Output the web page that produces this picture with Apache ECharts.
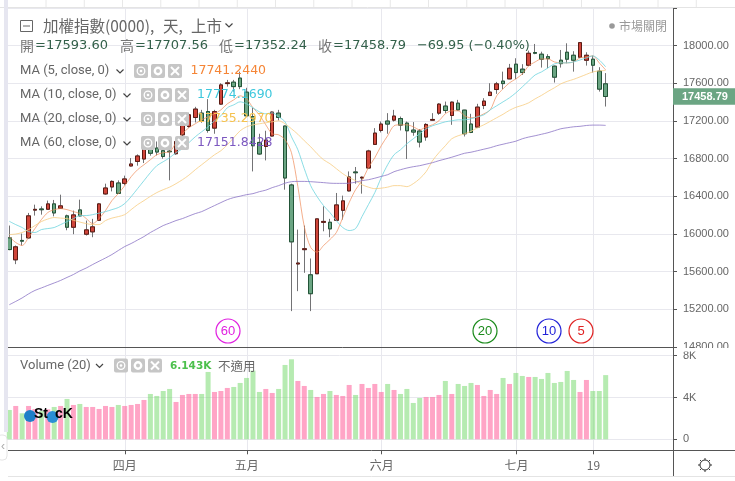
<!DOCTYPE html>
<html>
<head>
<meta charset="utf-8">
<style>
html, body { margin: 0; padding: 0; background: #fff; }
#main { width: 735px; height: 481px; }
</style>
<script src="https://cdn.jsdelivr.net/npm/echarts@6/dist/echarts.min.js"></script>
</head>
<body>
<div id="main"></div>
<script>
const openValues = [
  15957, 15724, 15930, 15957, 16252, 16264, 16261, 16318, 16271, 16191,
  16070, 16254, 15996, 16021, 16144, 16424, 16498, 16540, 16536, 16721,
  16769, 16795, 16909, 16911, 16883, 16878, 16851, 17052, 17140, 17236,
  17282, 17299, 17123, 17378, 17596, 17611, 17654, 17505, 17246, 16971,
  16928, 17039, 17282, 17145, 16519, 15680, 15832, 15565, 15576, 16122,
  16123, 16144, 16250, 16456, 16657, 16593, 16699, 16950, 17098, 17198,
  17208, 17225, 17176, 17102, 17092, 17028, 17207, 17282, 17357, 17257,
  17388, 17314, 17166, 17134, 17363, 17469, 17533, 17622, 17646, 17802,
  17749, 17791, 17926, 17908, 17882, 17781, 17844, 17929, 17897, 17876,
  17844, 17855, 17728, 17593.60
]
const closeValues = [
  15833, 15862, 15922, 16191, 16260, 16256, 16318, 16222, 16297, 16070,
  16201, 16191, 16042, 16074, 16318, 16487, 16557, 16430, 16583, 16742,
  16827, 16911, 16856, 16869, 16822, 16872, 16981, 17158, 17264, 17325,
  17201, 17098, 17299, 17582, 17604, 17564, 17564, 17254, 16936, 16848,
  16996, 17293, 17236, 16593, 15915, 15690, 15842, 15364, 16159, 16132,
  16053, 16307, 16350, 16604, 16649, 16601, 16880, 17070, 17166, 17166,
  17251, 17155, 17095, 17081, 16975, 17162, 17215, 17378, 17310, 17399,
  17317, 17063, 17077, 17346, 17410, 17505, 17593, 17596, 17759, 17713,
  17713, 17918, 17918, 17855, 17861, 17664, 17808, 17855, 17844, 18031,
  17897, 17791, 17537, 17458.79
]
const lowValues = [
  15826, 15678, 15876, 15947, 16194, 16204, 16257, 16186, 16265, 16038,
  15996, 16186, 15982, 15964, 16144, 16416, 16451, 16427, 16515, 16716,
  16724, 16752, 16830, 16833, 16798, 16568, 16840, 17031, 17127, 17183,
  17180, 17074, 17063, 17370, 17564, 17511, 17537, 17251, 16663, 16840,
  16780, 17034, 17204, 16469, 15179, 15391, 15586, 15179, 15576, 16027,
  15964, 16144, 16151, 16451, 16533, 16427, 16695, 16946, 17077, 17063,
  17193, 17098, 16795, 17042, 16918, 16989, 17204, 17264, 17282, 17158,
  17310, 17034, 17070, 17123, 17325, 17466, 17487, 17537, 17643, 17643,
  17688, 17787, 17908, 17766, 17759, 17607, 17766, 17812, 17723, 17876,
  17787, 17713, 17511, 17352.24
]
const highValues = [
  16088, 15876, 16003, 16222, 16310, 16292, 16353, 16360, 16416, 16204,
  16247, 16363, 16141, 16159, 16328, 16533, 16568, 16568, 16618, 16805,
  16844, 16928, 16964, 16981, 16922, 16893, 16999, 17190, 17286, 17349,
  17317, 17431, 17317, 17600, 17635, 17635, 17723, 17551, 17339, 17063,
  17095, 17299, 17317, 17148, 16533, 16045, 16088, 15738, 16159, 16292,
  16159, 16434, 16406, 16663, 16710, 16610, 16893, 17123, 17193, 17282,
  17317, 17246, 17193, 17187, 17113, 17176, 17282, 17388, 17405, 17405,
  17423, 17317, 17275, 17381, 17441, 17600, 17614, 17723, 17805, 17865,
  17802, 17946, 18017, 17935, 17908, 17787, 17953, 18024, 17940, 18031,
  17929, 17893, 17770, 17707.56
]
const ma5 = [
  15971, 15908, 15876, 15961, 16056, 16151, 16226, 16257, 16268, 16257,
  16236, 16215, 16162, 16109, 16162, 16247, 16353, 16427, 16512, 16607,
  16681, 16734, 16787, 16840, 16862, 16872, 16968, 17063, 17127, 17169,
  17211, 17243, 17275, 17317, 17381, 17423, 17466, 17434, 17339, 17264,
  17158, 17063, 17052, 17000, 16862, 16501, 16077, 15855, 15805, 15876,
  15939, 16014, 16173, 16332, 16469, 16565, 16703, 16809, 16936, 17042,
  17148, 17158, 17158, 17137, 17105, 17137, 17158, 17201, 17275, 17307,
  17307, 17254, 17233, 17243, 17275, 17317, 17466, 17540, 17604, 17646,
  17699, 17784, 17826, 17858, 17858, 17826, 17816, 17816, 17826, 17869,
  17879, 17890, 17816, 17741.24
]
const ma10 = [
  16133, 16098, 16067, 16024, 16014, 16045, 16056, 16067, 16098, 16130,
  16162, 16194, 16194, 16204, 16220, 16236, 16257, 16279, 16321, 16395,
  16480, 16565, 16650, 16724, 16766, 16809, 16862, 16904, 16968, 17031,
  17084, 17137, 17201, 17254, 17339, 17370, 17402, 17381, 17339, 17296,
  17275, 17286, 17243, 17190, 17031, 16893, 16692, 16512, 16395, 16300,
  16226, 16141, 16067, 16035, 16056, 16183, 16310, 16438, 16597, 16734,
  16840, 16893, 16957, 17010, 17063, 17116, 17148, 17169, 17190, 17201,
  17211, 17211, 17222, 17243, 17264, 17317, 17360, 17402, 17445, 17498,
  17561, 17625, 17688, 17720, 17763, 17805, 17816, 17816, 17826, 17847,
  17869, 17890, 17847, 17774.17
]
const ma20 = [
  15992, 15998, 16014, 16045, 16088, 16130, 16157, 16173, 16167, 16162,
  16144, 16125, 16109, 16098, 16098, 16141, 16167, 16183, 16204, 16257,
  16310, 16353, 16398, 16438, 16469, 16496, 16533, 16575, 16623, 16681,
  16734, 16787, 16840, 16883, 16946, 17021, 17095, 17137, 17158, 17169,
  17180, 17190, 17201, 17169, 17116, 17058, 16989, 16925, 16851, 16787,
  16745, 16692, 16639, 16597, 16565, 16522, 16496, 16480, 16485, 16496,
  16512, 16512, 16501, 16533, 16586, 16660, 16777, 16862, 16936, 17010,
  17042, 17063, 17089, 17127, 17158, 17195, 17233, 17270, 17312, 17344,
  17365, 17392, 17434, 17471, 17513, 17551, 17593, 17620, 17641, 17667,
  17694, 17720, 17731, 17735.29
]
const ma60 = [
  15247, 15282, 15319, 15362, 15399, 15425, 15452, 15478, 15505, 15537,
  15568, 15606, 15637, 15674, 15709, 15743, 15780, 15823, 15865, 15897,
  15934, 15971, 16014, 16051, 16088, 16114, 16141, 16162, 16189, 16215,
  16236, 16268, 16300, 16332, 16363, 16385, 16400, 16416, 16427, 16448,
  16464, 16491, 16512, 16538, 16554, 16557, 16557, 16554, 16549, 16544,
  16538, 16536, 16536, 16538, 16549, 16565, 16575, 16591, 16610, 16628,
  16660, 16681, 16699, 16713, 16724, 16740, 16756, 16777, 16795, 16814,
  16835, 16856, 16867, 16883, 16899, 16915, 16936, 16952, 16968, 16984,
  17010, 17028, 17042, 17058, 17074, 17095, 17116, 17127, 17137, 17142,
  17151, 17155, 17155, 17151.84
]
const volumes = [
  2807, 3190, 2488, 3190, 2900, 2700, 2870, 3094, 3190, 3860,
  3286, 3381, 3094, 3094, 2903, 3190, 3094, 3286, 3190, 3286,
  3381, 3764, 4338, 4147, 4625, 4817, 3573, 4243, 4338, 4338,
  4338, 6444, 4530, 4625, 4913, 5008, 5391, 5870, 6571, 4530,
  4817, 4434, 4817, 7114, 7656, 5582, 5104, 4721, 4051, 4338,
  4625, 4243, 4147, 5200, 4243, 5295, 4913, 5295, 4530, 5295,
  4721, 4338, 4817, 3477, 3956, 4051, 4051, 4243, 5582, 4338,
  5295, 5104, 5391, 5200, 4147, 4721, 4338, 5870, 5295, 6348,
  6061, 5965, 5965, 5774, 6348, 5391, 5487, 6540, 5678, 4530,
  5678, 4625, 4625, 6143
]
const tickIndex = [18, 37, 58, 79, 91]
const tickLabels = ['四月', '五月', '六月', '七月', '19']
const emptySlots = 10 // 右側留白

const categories = []
for (let i = 0; i < openValues.length + emptySlots; i++) {
  let k = tickIndex.indexOf(i)
  categories.push(k >= 0 ? tickLabels[k] : '')
}
const isTick = i => tickIndex.indexOf(i) >= 0

const gridColor = '#e8e8ee'
const axisColor = '#555'
const labelColor = '#666'
const latin = '"DejaVu Sans"'
const sans = '"Liberation Sans", "Noto Sans CJK TC"'
const cjk = '"Noto Sans CJK TC"'

// 影線一組（灰），實體一組（深框）
const wickData = openValues.map((o, i) => [o, closeValues[i], lowValues[i], highValues[i]])
const bodyData = openValues.map((o, i) => [o, closeValues[i], Math.min(o, closeValues[i]), Math.max(o, closeValues[i])])
const volumeData = volumes.map((v, i) => ({
  value: v,
  itemStyle: { color: closeValues[i] >= openValues[i] ? 'rgba(255,105,160,0.6)' : 'rgba(110,215,100,0.5)' }
}))

function maLine(name, data, color) {
  return {
    name: name,
    type: 'line',
    data: data,
    xAxisIndex: 0,
    yAxisIndex: 0,
    symbol: 'none',
    smooth: 0.3,
    lineStyle: { color: color, width: 1 },
    z: 4
  }
}

let myChart = echarts.init(document.getElementById('main'))

let option = {
  animation: false,
  backgroundColor: '#fff',
  grid: [
    { left: 6.1, right: 62, top: 7.9, height: 338.9 },
    { left: 6.1, right: 62, top: 355.7, height: 83.6 },
    { left: 9.31, width: 661.26, top: 7.9, height: 442.4 }
  ],
  xAxis: [
    { type: 'category', gridIndex: 0, data: categories, show: false },
    { type: 'category', gridIndex: 1, data: categories, show: false },
    {
      type: 'category',
      gridIndex: 2,
      data: categories,
      boundaryGap: false,
      axisLine: { show: false },
      axisTick: { length: 4, interval: isTick, lineStyle: { color: axisColor } },
      axisLabel: { interval: isTick, margin: 9, color: labelColor, fontSize: 12, fontFamily: cjk },
      splitLine: { show: true, interval: isTick, lineStyle: { color: gridColor, width: 1 } }
    }
  ],
  yAxis: [
    {
      type: 'value',
      gridIndex: 0,
      position: 'right',
      min: 14800,
      max: 18400,
      interval: 400,
      axisLine: { show: false },
      axisTick: { show: true, length: 4, lineStyle: { color: axisColor } },
      axisLabel: { margin: 10, color: labelColor, fontSize: 11, fontFamily: sans, formatter: v => (v < 18400 ? v.toFixed(2) : '') },
      splitLine: { lineStyle: { color: gridColor, width: 1 } }
    },
    {
      type: 'value',
      gridIndex: 1,
      position: 'right',
      min: 0,
      max: 8000,
      interval: 4000,
      axisLine: { show: false },
      axisTick: { show: true, length: 4, lineStyle: { color: axisColor } },
      axisLabel: { margin: 10, color: labelColor, fontSize: 11, fontFamily: sans, formatter: v => (v ? v / 1000 + 'K' : '0') },
      splitLine: { lineStyle: { color: gridColor, width: 1 } }
    },
    { type: 'value', gridIndex: 2, show: false }
  ],
  series: [
    {
      name: 'wick',
      type: 'candlestick',
      data: wickData,
      barWidth: 4,
      itemStyle: { color: 'transparent', color0: 'transparent', borderColor: '#737375', borderColor0: '#737375', borderWidth: 1 },
      z: 2
    },
    {
      name: '加權指數',
      type: 'candlestick',
      data: bodyData,
      barWidth: 4,
      itemStyle: { color: '#d0453a', color0: '#6ba583', borderColor: '#5b1a13', borderColor0: '#225437', borderWidth: 1 },
      z: 3
    },
    maLine('MA5', ma5, 'rgba(240,140,90,0.7)'),
    maLine('MA10', ma10, 'rgba(110,212,222,0.8)'),
    maLine('MA20', ma20, 'rgba(247,205,130,0.8)'),
    maLine('MA60', ma60, 'rgba(140,118,198,0.8)'),
    {
      name: 'Volume',
      type: 'bar',
      data: volumeData,
      xAxisIndex: 1,
      yAxisIndex: 1,
      barWidth: 5
    }
  ]
}

myChart.setOption(option)

// 以下是圖面上的文字與小圖示
function txt(text, x, y, color, size, font, extra) {
  return {
    type: 'text',
    x: x,
    y: y,
    z: 60,
    silent: true,
    style: Object.assign({
      text: text, fill: color, fontSize: size, fontFamily: font,
      align: 'left', verticalAlign: 'middle'
    }, extra || {})
  }
}
function seg(x1, y1, x2, y2, color, w) {
  return { type: 'line', z: 50, silent: true, shape: { x1, y1, x2, y2 }, style: { stroke: color, lineWidth: w || 1 } }
}
function chevron(x, y) {
  return { type: 'polyline', z: 60, silent: true, shape: { points: [[x - 3.5, y - 1.5], [x, y + 2], [x + 3.5, y - 1.5]] }, style: { stroke: '#444', lineWidth: 1.2, fill: 'none' } }
}
function iconButtons(x, y) {
  let out = []
  let gap = 17
  for (let k = 0; k < 3; k++) {
    let cx = x + k * gap + 7
    out.push({ type: 'rect', z: 55, silent: true, shape: { x: cx - 7, y: y - 7, width: 14, height: 14, r: 2 }, style: { fill: '#c6c6c6' } })
    if (k === 0) {
      out.push({ type: 'circle', z: 56, silent: true, shape: { cx: cx, cy: y, r: 3.8 }, style: { fill: 'none', stroke: '#fff', lineWidth: 1.3 } })
      out.push({ type: 'circle', z: 56, silent: true, shape: { cx: cx, cy: y, r: 1.3 }, style: { fill: '#fff' } })
    } else if (k === 1) {
      out.push({ type: 'circle', z: 56, silent: true, shape: { cx: cx, cy: y, r: 3.2 }, style: { fill: 'none', stroke: '#fff', lineWidth: 2.4 } })
    } else {
      let a = seg(cx - 4, y - 4, cx + 4, y + 4, '#fff', 2)
      let b = seg(cx - 4, y + 4, cx + 4, y - 4, '#fff', 2)
      a.z = b.z = 56
      out.push(a, b)
    }
  }
  return out
}
function ring(cx, cy, label, color) {
  return [
    { type: 'circle', z: 60, silent: true, shape: { cx, cy, r: 12 }, style: { fill: '#fff', stroke: color, lineWidth: 1.2 } },
    txt(label, cx, cy, color, 13, sans, { align: 'center' })
  ]
}

function overlay(priceY) {
  let els = []
  // 外框與分隔線
  for (let k = 0; k < 18; k++) {
    els.push(seg(46 + k * 38.25, 0, 46 + k * 38.25, 7, '#e8e8e8'))
  }
  els.push(seg(0, 7.5, 735, 7.5, '#e4e4e4'))
  els.push(seg(8, 476.5, 735, 476.5, '#e4e4e4'))
  els.push({ type: 'rect', z: 50, silent: true, shape: { x: 4, y: 0, width: 4, height: 432 }, style: { fill: '#e6e6f0' } })
  els.push({ type: 'rect', z: 51, silent: true, shape: { x: -3, y: 435, width: 10, height: 25, r: 4 }, style: { fill: '#fff', stroke: '#e4e4e4' } })
  els.push(txt('‹', 1, 447, '#aaa', 12, sans))
  // 14800 刻度字被下方面板切掉
  els.push({ type: 'rect', z: 49, silent: true, shape: { x: 674, y: 348, width: 61, height: 3.5 }, style: { fill: '#fff' } })
  els.push(seg(8, 347.5, 677, 347.5, axisColor))
  els.push(seg(8, 450.5, 735, 450.5, axisColor))
  els.push(seg(673.5, 8, 673.5, 476, axisColor))

  // 標題列
  els.push({ type: 'rect', z: 60, silent: true, shape: { x: 20.5, y: 20.5, width: 12, height: 11 }, style: { fill: 'none', stroke: '#666', lineWidth: 1 } })
  els.push(seg(23, 26, 30, 26, '#666'))
  els.push(txt('加權指數(0000),', 43, 26, '#666', 15.5, cjk))
  els.push(txt('天,', 163, 26, '#666', 15.5, cjk))
  els.push(txt('上市', 191, 26, '#666', 15.5, cjk))
  els.push(chevron(229, 25))
  let valueColor = '#33604a'
  let rowY = 45.5
  ;[['開', '=17593.60', 20], ['高', '=17707.56', 120], ['低', '=17352.24', 219], ['收', '=17458.79', 318]].forEach(r => {
    els.push(txt(r[0], r[2], rowY, '#777', 14, cjk))
    els.push(txt(r[1], r[2] + 15, rowY, valueColor, 13, latin))
  })
  els.push(txt('−69.95 (−0.40%)', 417, rowY, valueColor, 12.8, latin))

  // 均線圖例
  let legends = [
    ['MA (5, close, 0)', 71, 120, 134, '17741.2440', 190.5, '#f58536'],
    ['MA (10, close, 0)', 95, 127, 141, '17774.1690', 197, '#3fc8dd'],
    ['MA (20, close, 0)', 119, 127, 141, '17735.2970', 197, '#f5c24f'],
    ['MA (60, close, 0)', 143, 127, 141, '17151.8428', 197, '#7c58c0']
  ]
  legends.forEach(l => {
    els.push(txt(l[0], 20, l[1], '#666', 13, '"Roboto"'))
    els.push(chevron(l[2], l[1]))
    els.push(...iconButtons(l[3], l[1]))
    els.push(txt(l[4], l[5], l[1], l[6], 12.5, latin))
  })

  // 成交量圖例
  els.push(txt('Volume (20)', 20, 365.5, '#666', 13, '"Roboto"'))
  els.push(chevron(99.5, 365.5))
  els.push(...iconButtons(114, 365.5))
  els.push(txt('6.143K', 170, 366, '#4cc04c', 10.5, latin, { fontWeight: 'bold' }))
  els.push(txt('不適用', 218, 366, '#666', 12.5, cjk))

  // 市場狀態
  els.push({ type: 'circle', z: 60, silent: true, shape: { cx: 612, cy: 26, r: 2.8 }, style: { fill: '#999' } })
  els.push(txt('市場關閉', 619, 26, '#999', 12, cjk))

  // 週期圈
  els.push(...ring(228, 331, '60', '#e020e0'))
  els.push(...ring(485, 331, '20', '#1a8a1a'))
  els.push(...ring(549, 331, '10', '#2222d8'))
  els.push(...ring(581, 331, '5', '#e02222'))

  // 最新價標籤
  els.push({ type: 'rect', z: 60, silent: true, shape: { x: 673, y: priceY - 8.3, width: 62, height: 16.6 }, style: { fill: '#6ba583' } })
  els.push(seg(673, priceY, 677, priceY, '#fff'))
  let priceTag = txt(closeValues[closeValues.length - 1].toFixed(2), 682, priceY, '#fff', 11, sans, { fontWeight: 'bold' })
  priceTag.z = 61
  els.push(priceTag)

  // 齒輪
  els.push({ type: 'circle', z: 60, silent: true, shape: { cx: 705, cy: 465, r: 5 }, style: { fill: 'none', stroke: '#333', lineWidth: 1 } })
  for (let k = 0; k < 8; k++) {
    let a = k * Math.PI / 4
    els.push(seg(705 + 5 * Math.cos(a), 465 + 5 * Math.sin(a), 705 + 7 * Math.cos(a), 465 + 7 * Math.sin(a), '#333'))
  }

  // 水印
  els.push({ type: 'circle', z: 62, silent: true, shape: { cx: 30, cy: 416, r: 6 }, style: { fill: '#1f7fc8' } })
  els.push({ type: 'circle', z: 62, silent: true, shape: { cx: 52.5, cy: 417, r: 6 }, style: { fill: '#2a8fd4' } })
  let logoA = txt('St', 34, 414, '#000', 14, sans, { fontWeight: 'bold' })
  let logoB = txt('cK', 55, 414, '#000', 14, sans, { fontWeight: 'bold' })
  logoA.z = logoB.z = 63
  els.push(logoA, logoB)
  return els
}

let priceY = myChart.convertToPixel({ yAxisIndex: 0 }, closeValues[closeValues.length - 1])
myChart.setOption({ graphic: { elements: overlay(priceY) } })
</script>
</body>
</html>
